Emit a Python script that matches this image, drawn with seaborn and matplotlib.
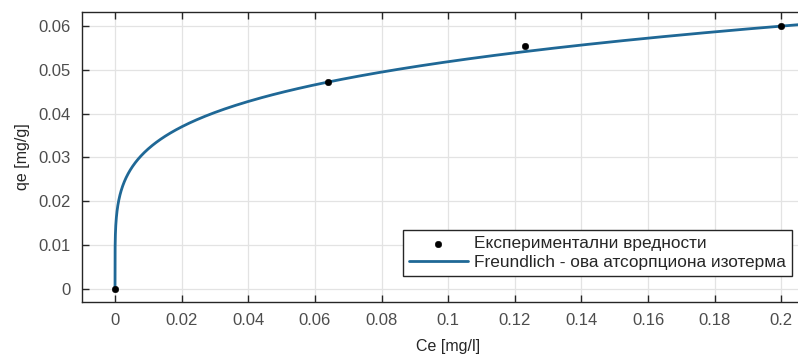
import matplotlib
matplotlib.use("Agg")
import matplotlib.pyplot as plt
import seaborn as sns
import numpy as np

# ------------------ Data ------------------
ce_exp = [0.0, 0.064, 0.123, 0.200]        # Ce [mg/l]
qe_exp = [0.0, 0.0472, 0.0555, 0.0600]     # qe [mg/g]

# Freundlich parameters (qe = Kf * Ce^(1/n))
kf = 0.0841
n_inv = 0.21

x_ticks = [0, 0.02, 0.04, 0.06, 0.08, 0.1, 0.12, 0.14, 0.16, 0.18, 0.2]
x_labels = ["0", "0.02", "0.04", "0.06", "0.08", "0.1", "0.12", "0.14", "0.16", "0.18", "0.2"]
y_ticks = [0, 0.01, 0.02, 0.03, 0.04, 0.05, 0.06]
y_labels = ["0", "0.01", "0.02", "0.03", "0.04", "0.05", "0.06"]

# model curve
ce_fit = np.concatenate([[0.0], np.geomspace(1e-7, 0.22, 600)])
qe_fit = kf * ce_fit ** n_inv

# ------------------ Plot ------------------
sns.set_style("whitegrid")
plt.rcParams['font.family'] = ['Liberation Sans', 'DejaVu Sans']

fig = plt.figure(figsize=(7.98, 3.56), dpi=100)
ax = fig.add_axes([0.1028, 0.1517, 0.918, 0.8146])

sns.scatterplot(x=ce_exp, y=qe_exp, ax=ax, color='black', s=22, edgecolor='black',
                zorder=4, label='Експериментални вредности')
sns.lineplot(x=ce_fit, y=qe_fit, ax=ax, color='#1f6896', linewidth=2, sort=False,
             zorder=3, label='Freundlich - ова атсорпциона изотерма')

ax.set_xlim(-0.0099, 0.21)
ax.set_ylim(-0.003, 0.0632)
ax.set_xticks(x_ticks, x_labels)
ax.set_yticks(y_ticks, y_labels)

ax.grid(True, color='#e3e3e3', linewidth=0.9)
for s in ax.spines.values():
    s.set_color('#262626')
    s.set_linewidth(1.0)
    s.set_visible(True)
ax.tick_params(direction='in', length=5, width=1, color='#262626',
               labelsize=12, labelcolor='#4d4d4d', top=True, right=True,
               left=True, bottom=True, pad=8)

ax.set_xlabel("Ce [mg/l]", fontsize=11.5, color='#262626', labelpad=8)
ax.set_ylabel("qe [mg/g]", fontsize=11.5, color='#262626', labelpad=6)

leg = ax.legend(loc='upper left', bbox_to_anchor=((403 - 82) / 732.5, (302 - 230) / 290),
                bbox_transform=ax.transAxes, borderaxespad=0, fontsize=12.4, frameon=True,
                fancybox=False, edgecolor='#262626', framealpha=1,
                handlelength=3.4, borderpad=0.35, labelspacing=0.25, handletextpad=0.35)
leg.get_frame().set_linewidth(1.0)

fig.savefig("out.png", dpi=100)
